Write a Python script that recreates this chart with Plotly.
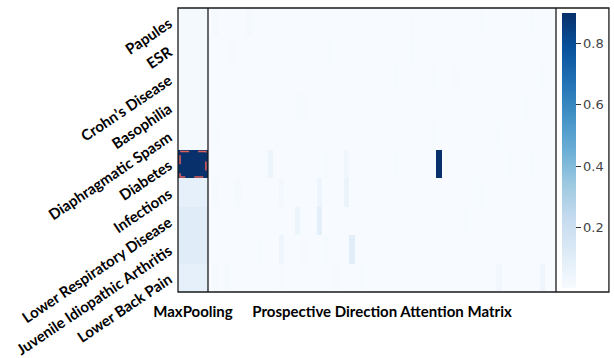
import numpy as np
import plotly.graph_objects as go
from plotly.colors import sequential

# Row labels, top to bottom
diseases = [
    "Papules", "ESR", "Crohn’s Disease", "Basophilia", "Diaphragmatic Spasm",
    "Diabetes", "Infections", "Lower Respiratory Disease",
    "Juvenile Idiopathic Arthritis", "Lower Back Pain",
]

# Max-pooled attention per disease
maxpool_values = [0.02, 0.02, 0.02, 0.02, 0.02, 0.90, 0.08, 0.11, 0.11, 0.08]

# Prospective direction attention matrix: background level plus notable cells
n_positions = 64
background_level = 0.005
attention_rows = [0, 0, 0, 0, 0,
                  1, 1, 1,
                  2, 2, 2, 2,
                  3, 3, 3, 3,
                  4, 4, 4,
                  5, 5, 5, 5, 5, 5, 5,
                  6, 6, 6, 6, 6, 6, 6,
                  7, 7, 7,
                  8, 8, 8, 8, 8,
                  9, 9, 9, 9, 9, 9, 9]
attention_cols = [1, 7, 50, 59, 37,
                  4, 22, 37,
                  34, 41, 45, 61,
                  16, 17, 58, 63,
                  1, 41, 53,
                  11, 21, 25, 34, 42, 55, 59,
                  1, 5, 13, 20, 25, 50, 49,
                  16, 20, 47,
                  9, 13, 17, 21, 26,
                  1, 3, 13, 23, 28, 53, 61]
attention_vals = [0.02, 0.02, 0.015, 0.015, 0.01,
                  0.012, 0.015, 0.012,
                  0.012, 0.012, 0.012, 0.012,
                  0.012, 0.012, 0.015, 0.01,
                  0.015, 0.015, 0.012,
                  0.05, 0.015, 0.04, 0.015, 0.90, 0.015, 0.015,
                  0.02, 0.02, 0.025, 0.045, 0.055, 0.012, 0.008,
                  0.05, 0.09, 0.015,
                  0.015, 0.045, 0.01, 0.015, 0.10,
                  0.02, 0.02, 0.01, 0.012, 0.015, 0.03, 0.045]

matrix = np.full((len(diseases), n_positions), background_level)
for r, c, v in zip(attention_rows, attention_cols, attention_vals):
    matrix[r, c] = v

zmin, zmax = 0.005, 0.90
blues = sequential.Blues
label_font = dict(family="Lato", size=15, color="black", weight="bold")

fig = go.Figure()
fig.add_trace(go.Heatmap(
    z=[[v] for v in maxpool_values], x=[0], y=list(range(len(diseases))),
    coloraxis="coloraxis", xaxis="x", yaxis="y", hoverinfo="skip",
))
fig.add_trace(go.Heatmap(
    z=matrix, x=list(range(n_positions)), y=list(range(len(diseases))),
    coloraxis="coloraxis", xaxis="x2", yaxis="y", hoverinfo="skip",
))

split = 30 / 378
fig.update_layout(
    width=614, height=358,
    margin=dict(l=178, r=58, t=8, b=66, autoexpand=False),
    paper_bgcolor="white", plot_bgcolor="white",
    coloraxis=dict(
        colorscale=blues, cmin=zmin, cmax=zmax,
        colorbar=dict(
            x=1.016, xanchor="left", xpad=0, ypad=0,
            y=0.5, yanchor="middle", len=0.968, lenmode="fraction",
            thickness=14, outlinewidth=0,
            tickvals=[0.2, 0.4, 0.6, 0.8], ticktext=["0.2", "0.4", "0.6", "0.8"],
            ticks="outside", ticklen=5, tickcolor="#333", tickwidth=1,
            tickfont=dict(family="DejaVu Sans", size=13, color="#444"),
        ),
    ),
    xaxis=dict(domain=[0, split], range=[-0.5, 0.5], tickvals=[0],
               ticktext=["MaxPooling"], tickfont=label_font, ticks="",
               ticklabelstandoff=9, showgrid=False, zeroline=False,
               automargin=False),
    xaxis2=dict(domain=[split, 1], range=[-0.5, n_positions - 0.5],
                tickvals=[(n_positions - 1) / 2],
                ticktext=["Prospective Direction Attention Matrix"],
                tickfont=label_font, ticks="", ticklabelstandoff=9,
                showgrid=False, zeroline=False, anchor="y", automargin=False),
    yaxis=dict(range=[len(diseases) - 0.5, -0.5],
               tickvals=list(range(len(diseases))), ticktext=diseases,
               tickangle=-34, tickfont=label_font, ticks="",
               ticklabelstandoff=8, ticklabeloverflow="allow",
               showgrid=False, zeroline=False, automargin=False),
)

# Frame lines: outer box, split between panels, and box around the colorbar
frame = dict(color="#1a1a1a", width=1.3)
fig.add_shape(type="rect", xref="paper", yref="paper", x0=0, x1=1.14, y0=0, y1=1, line=frame)
fig.add_shape(type="line", xref="paper", yref="paper", x0=split, x1=split, y0=0, y1=1, line=frame)
fig.add_shape(type="line", xref="paper", yref="paper", x0=1, x1=1, y0=0, y1=1, line=frame)

# Dashed outline around the strongest max-pooled cell
top = int(np.argmax(maxpool_values))
fig.add_shape(type="rect", xref="x", yref="y", x0=-0.43, x1=0.43,
              y0=top - 0.45, y1=top + 0.45,
              line=dict(color="#e0605a", width=1.5, dash="dash"))

fig.write_html("out.html")
